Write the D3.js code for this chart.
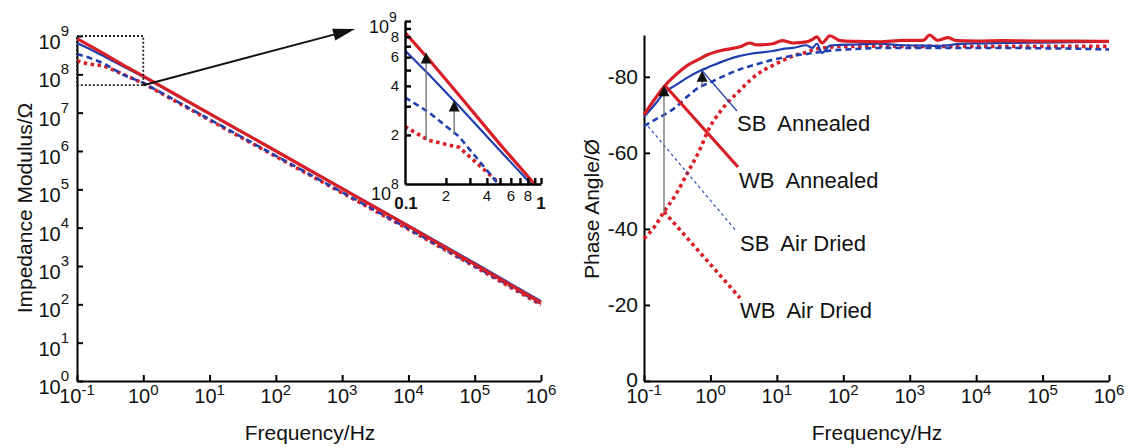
<!DOCTYPE html>
<meta charset="utf-8">
<style>
body { margin: 0; background: #fff; }
svg { font-family: "Liberation Sans", Arial, sans-serif; }
.axis path, .axis line { stroke: #000; stroke-width: 2px; }
.lbl { white-space: pre; }
</style>
<svg width="1128" height="448"></svg>
<script src="https://cdn.jsdelivr.net/npm/d3@7"></script>
<script>
// impedance data (Hz, ohm)
var freqZ = [0.1, 0.15, 0.25, 0.5, 1, 10, 100, 1e3, 1e4, 1e5, 1e6];
var zWBAnnealed = [8.5e8, 5.8e8, 3.5e8, 1.75e8, 9e7, 9.5e6, 1.0e6, 1.05e5, 1.1e4, 1.1e3, 110];
var zSBAnnealed = [6.6e8, 4.7e8, 3.0e8, 1.6e8, 8.6e7, 9.2e6, 1.0e6, 1.07e5, 1.15e4, 1.2e3, 120];
var zSBAirDried = [3.4e8, 2.75e8, 1.95e8, 9.7e7, 6e7, 6.7e6, 7.5e5, 8.4e4, 9.4e3, 1.0e3, 103];
var zWBAirDried = [2.25e8, 1.85e8, 1.68e8, 1.0e8, 5.8e7, 6.4e6, 7.2e5, 8.1e4, 9.1e3, 9.7e2, 97];

// phase data (Hz, degrees)
var phaseFreq = [0.1, 0.15, 0.2, 0.3, 0.45, 0.7, 0.9, 1.5, 2.8, 3.9, 5, 8.7, 12, 17.5, 28, 34, 40, 48, 63, 90,
  150, 350, 800, 1600, 2000, 2600, 3800, 5000, 1e4, 2.5e4, 1e5, 3e5, 1e6];
var phWBAnnealed = [-70, -74.5, -77.4, -80.5, -83, -84.8, -85.8, -87, -87.9, -88.9, -88.4, -88.7, -89.5, -88.9, -89.2, -89.8, -90.5, -88.9, -90.8, -89.5,
  -89.3, -89.2, -89.6, -89.6, -91, -89.6, -90.3, -89.5, -89.4, -89.5, -89.4, -89.4, -89.3];
var phSBAnnealed = [-69.5, -73, -75.8, -77.8, -79.8, -81.6, -82.4, -84, -85.5, -86, -86.3, -86.8, -87.3, -87.6, -88.3, -87.6, -88.7, -86.3, -88.2, -88.4,
  -88.5, -88.7, -88.3, -88.2, -88.2, -88.1, -88.3, -88.6, -88.8, -88.9, -89, -89.1, -89.2];
var phSBAirDried = [-67, -68.8, -70, -72, -74.8, -77.4, -78.2, -80, -82, -82.8, -83.3, -84.5, -85, -85.6, -86, -86.2, -86.4, -86.6, -86.9, -87.1,
  -87.3, -87.6, -87.6, -87.6, -87.6, -87.6, -87.6, -87.6, -87.6, -87.6, -87.5, -87.4, -87.2];
var phWBAirDried = [-37.4, -41, -44.5, -49, -54.7, -61, -65.5, -71.5, -76.5, -79, -80.6, -83, -84.2, -85.5, -86.5, -87, -87.3, -87.6, -87.8, -88,
  -88, -88.1, -88, -88, -88, -88, -88, -88, -88, -88, -88, -88, -88];

var freqTicks = [0.1, 1, 10, 100, 1e3, 1e4, 1e5, 1e6];
var freqExp = ["-1", "0", "1", "2", "3", "4", "5", "6"];
var zTicks = [1, 10, 100, 1e3, 1e4, 1e5, 1e6, 1e7, 1e8, 1e9];
var zExp = ["0", "1", "2", "3", "4", "5", "6", "7", "8", "9"];
var phaseTicks = [0, -20, -40, -60, -80];
var insetYTicks = [2e8, 3e8, 4e8, 5e8, 6e8, 7e8, 8e8, 9e8, 1e9];
var insetYLabels = {2e8: "2", 4e8: "4", 6e8: "6", 8e8: "8"};
var insetXTicks = [0.2, 0.3, 0.4, 0.5, 0.6, 0.7, 0.8, 0.9, 1];
var insetXLabels = {0.2: "2", 0.4: "4", 0.6: "6", 0.8: "8"};

var RED = "#d91f26", BLUE = "#1f3fae";

var series = [
  {z: zWBAirDried, ph: phWBAirDried, color: RED, w: 3.6, dash: "3.5,3.5"},
  {z: zSBAirDried, ph: phSBAirDried, color: BLUE, w: 2.6, dash: "6,4"},
  {z: zSBAnnealed, ph: phSBAnnealed, color: BLUE, w: 2.2, dash: null},
  {z: zWBAnnealed, ph: phWBAnnealed, color: RED, w: 3.2, dash: null}
];

var svg = d3.select("svg");

var xL = d3.scaleLog().domain([0.1, 1e6]).range([77, 541]);
var yL = d3.scaleLog().domain([1, 1e9]).range([381, 36]);
var xR = d3.scaleLog().domain([0.1, 1e6]).range([644, 1109]);
var yR = d3.scaleLinear().domain([0, -91]).range([381, 35]);
var xI = d3.scaleLog().domain([0.1, 1]).range([405, 541]);
var yI = d3.scaleLog().domain([1e8, 1e9]).range([184, 21]);

function supLabel(g, x, y, base, exp, anchor, size, supSize, supDy) {
  var t = g.append("text").attr("x", x).attr("y", y).attr("text-anchor", anchor)
    .attr("font-size", size).attr("fill", "#111");
  t.append("tspan").text(base);
  t.append("tspan").attr("dy", supDy).attr("font-size", supSize).text(exp);
  return t;
}

// ---------- left: impedance ----------
var gL = svg.append("g");
gL.append("g").attr("class", "axis").attr("transform", "translate(0,381)")
  .call(d3.axisBottom(xL).tickValues(freqTicks).tickSizeInner(-6).tickSizeOuter(0).tickFormat(""));
gL.append("g").attr("class", "axis").attr("transform", "translate(77,0)")
  .call(d3.axisLeft(yL).tickValues(zTicks).tickSizeInner(-6).tickSizeOuter(0).tickFormat(""));

freqTicks.forEach(function(f, i) {
  supLabel(gL, xL(f), 403, "10", freqExp[i], "middle", 20, 15, -8);
  supLabel(svg, xR(f), 403, "10", freqExp[i], "middle", 20, 15, -8);
});
zTicks.forEach(function(z, i) {
  supLabel(gL, 69, yL(z) + 13, "10", zExp[i], "end", 20, 15, -13);
});

var lineL = d3.line().x(function(d, i) { return xL(freqZ[i]); }).y(function(d) { return yL(d); });
series.forEach(function(s) {
  gL.append("path").attr("d", lineL(s.z)).attr("fill", "none")
    .attr("stroke", s.color).attr("stroke-width", s.w).attr("stroke-dasharray", s.dash);
});

gL.append("text").attr("transform", "translate(32,208) rotate(-90)").attr("text-anchor", "middle")
  .attr("font-size", 21).attr("fill", "#111").text("Impedance Modulus/\u03A9");
gL.append("text").attr("x", 310).attr("y", 440).attr("text-anchor", "middle")
  .attr("font-size", 21).attr("fill", "#111").text("Frequency/Hz");

// zoom box + arrow
var boxBottom = 5.2e7;
gL.append("rect").attr("x", xL(0.1)).attr("y", yL(1e9))
  .attr("width", xL(1) - xL(0.1)).attr("height", yL(boxBottom) - yL(1e9))
  .attr("fill", "none").attr("stroke", "#222").attr("stroke-width", 1.8).attr("stroke-dasharray", "2,2");
var a0 = [xL(1), yL(boxBottom)], a1 = [355, 29];
var ang = Math.atan2(a1[1] - a0[1], a1[0] - a0[0]);
function headPts(tip, ang, len, hw) {
  var bx = tip[0] - len * Math.cos(ang), by = tip[1] - len * Math.sin(ang);
  return [tip, [bx + hw * Math.sin(ang), by - hw * Math.cos(ang)], [bx - hw * Math.sin(ang), by + hw * Math.cos(ang)]];
}
gL.append("line").attr("x1", a0[0]).attr("y1", a0[1])
  .attr("x2", a1[0] - 18 * Math.cos(ang)).attr("y2", a1[1] - 18 * Math.sin(ang))
  .attr("stroke", "#111").attr("stroke-width", 2);
gL.append("polygon").attr("points", headPts(a1, ang, 22, 6).join(" ")).attr("fill", "#111");

// ---------- inset ----------
var gI = svg.append("g");
gI.append("clipPath").attr("id", "clipI").append("rect")
  .attr("x", 405).attr("y", 21).attr("width", 137).attr("height", 163);
var lineI = d3.line().x(function(d, i) { return xI(freqZ[i]); }).y(function(d) { return yI(d); });
series.forEach(function(s) {
  gI.append("path").attr("d", lineI(s.z)).attr("fill", "none").attr("clip-path", "url(#clipI)")
    .attr("stroke", s.color).attr("stroke-width", s.w).attr("stroke-dasharray", s.dash);
});
gI.append("g").attr("class", "axis").attr("transform", "translate(0,184)")
  .call(d3.axisBottom(xI).tickValues(insetXTicks).tickSizeInner(-6).tickSizeOuter(0).tickFormat(""));
gI.append("g").attr("class", "axis").attr("transform", "translate(405,0)")
  .call(d3.axisLeft(yI).tickValues(insetYTicks).tickSizeInner(-6).tickSizeOuter(0).tickFormat(""));
gI.selectAll(".axis path, .axis line").style("stroke-width", 2.4);

insetYTicks.forEach(function(v) {
  if (insetYLabels[v]) gI.append("text").attr("x", 399).attr("y", yI(v) + 5).attr("text-anchor", "end")
    .attr("font-size", 15).attr("fill", "#111").text(insetYLabels[v]);
});
insetXTicks.forEach(function(v) {
  if (insetXLabels[v]) gI.append("text").attr("x", xI(v)).attr("y", 201).attr("text-anchor", "middle")
    .attr("font-size", 15).attr("fill", "#111").text(insetXLabels[v]);
});
supLabel(gI, 369, 33, "10", "9", "start", 18, 14, -11);
supLabel(gI, 371, 200, "10", "8", "start", 18, 14, -11);
gI.append("text").attr("x", 406).attr("y", 209).attr("text-anchor", "middle")
  .attr("font-size", 17).attr("font-weight", "bold").attr("fill", "#111").text("0.1");
gI.append("text").attr("x", 541).attr("y", 209).attr("text-anchor", "middle")
  .attr("font-size", 17).attr("font-weight", "bold").attr("fill", "#111").text("1");

function upArrow(g, x, yFrom, yTip) {
  g.append("line").attr("x1", x).attr("x2", x).attr("y1", yFrom).attr("y2", yTip + 8)
    .attr("stroke", "#777").attr("stroke-width", 1.4);
  g.append("polygon").attr("points", [[x, yTip], [x - 5.5, yTip + 11], [x + 5.5, yTip + 11]].join(" "))
    .attr("fill", "#111");
}
upArrow(gI, xI(0.143), yI(1.87e8), yI(6.4e8));
upArrow(gI, xI(0.23), yI(2.0e8), yI(3.25e8));

// ---------- right: phase ----------
var gR = svg.append("g");
gR.append("g").attr("class", "axis").attr("transform", "translate(0,381)")
  .call(d3.axisBottom(xR).tickValues(freqTicks).tickSizeInner(-6).tickSizeOuter(0).tickFormat(""));
gR.append("g").attr("class", "axis").attr("transform", "translate(644,0)")
  .call(d3.axisLeft(yR).tickValues(phaseTicks).tickSizeInner(-6).tickSizeOuter(0).tickFormat(""));
phaseTicks.forEach(function(v) {
  gR.append("text").attr("x", 638).attr("y", yR(v) + (v === 0 ? 6 : 7)).attr("text-anchor", "end")
    .attr("font-size", 21).attr("fill", "#111").text(String(v));
});

var lineR = d3.line().x(function(d, i) { return xR(phaseFreq[i]); }).y(function(d) { return yR(d); })
  .curve(d3.curveMonotoneX);
series.forEach(function(s) {
  gR.append("path").attr("d", lineR(s.ph)).attr("fill", "none")
    .attr("stroke", s.color).attr("stroke-width", s.w).attr("stroke-dasharray", s.dash);
});

// leaders + labels
var leaders = [
  {from: [xR(0.75), yR(-81.6)], to: [737, 111], color: BLUE, w: 1.2, dash: null, text: "SB  Annealed", tx: 737, ty: 131},
  {from: [xR(0.21), yR(-77.6)], to: [738, 167], color: RED, w: 3.2, dash: null, text: "WB  Annealed", tx: 739, ty: 188},
  {from: [xR(0.1) + 4, yR(phSBAirDried[0])], to: [737, 232], color: BLUE, w: 1.1, dash: "3,3", text: "SB  Air Dried", tx: 740, ty: 251},
  {from: [xR(0.2), yR(phWBAirDried[2])], to: [740, 298], color: RED, w: 3.6, dash: "3.5,3.5", text: "WB  Air Dried", tx: 740, ty: 318}
];
leaders.forEach(function(l) {
  gR.append("line").attr("x1", l.from[0]).attr("y1", l.from[1]).attr("x2", l.to[0]).attr("y2", l.to[1])
    .attr("stroke", l.color).attr("stroke-width", l.w).attr("stroke-dasharray", l.dash);
  gR.append("text").attr("class", "lbl").attr("x", l.tx).attr("y", l.ty)
    .attr("font-size", 22).attr("fill", "#111").text(l.text);
});

upArrow(gR, xR(0.2), yR(phWBAirDried[2]), yR(-77.8));
upArrow(gR, xR(0.75), yR(-77.6), yR(-81.6));

gR.append("text").attr("transform", "translate(599,209) rotate(-90)").attr("text-anchor", "middle")
  .attr("font-size", 21).attr("fill", "#111").text("Phase Angle/\u00D8");
gR.append("text").attr("x", 877).attr("y", 440).attr("text-anchor", "middle")
  .attr("font-size", 21).attr("fill", "#111").text("Frequency/Hz");
</script>
